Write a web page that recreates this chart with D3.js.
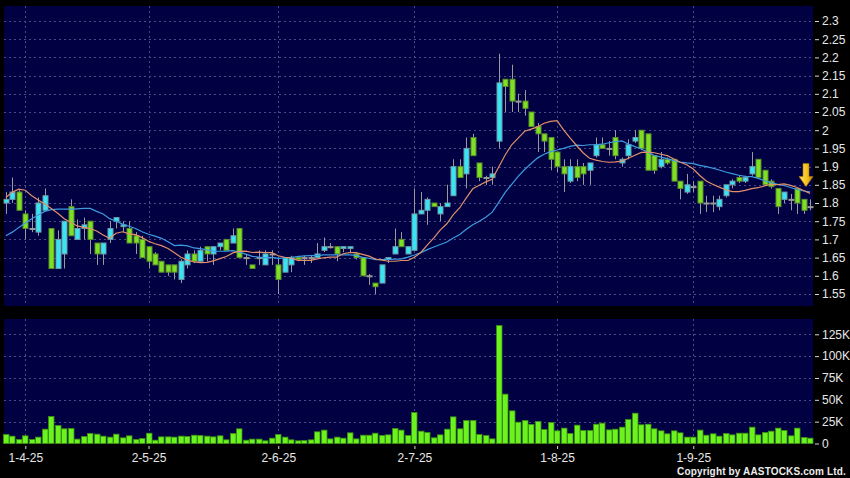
<!DOCTYPE html>
<html>
<head>
<meta charset="utf-8">
<script src="https://cdn.jsdelivr.net/npm/d3@7/dist/d3.min.js"></script>
<style>
body { margin: 0; background: #000; }
svg { display: block; font-family: "Liberation Sans", Arial, sans-serif; }
</style>
</head>
<body>
<svg width="850" height="478"></svg>
<script>
// daily candles, 27-3-25 .. 25-9-25 (index 0 .. 124)
var open = [1.80,1.81,1.83,1.77,1.73,1.72,1.78,1.73,1.62,1.66, 1.79,1.70,1.73,1.75,1.69,1.66,1.70,1.75,1.735,1.73,
	1.71,1.70,1.68,1.66,1.64,1.63,1.63,1.59,1.63,1.66, 1.64,1.68,1.66,1.68,1.70,1.69,1.73,1.65,1.63,1.65,
	1.63,1.66,1.63,1.61,1.63,1.65,1.65,1.65,1.65,1.67, 1.68,1.68,1.675,1.675,1.66,1.65,1.60,1.58,1.58,1.645,
	1.66,1.70,1.66,1.67,1.77,1.78,1.80,1.77,1.79,1.82, 1.90,1.88,1.98,1.91,1.87,1.87,1.97,2.14,2.14,2.08,
	2.08,2.05,2.01,1.99,1.98,1.94,1.90,1.86,1.90,1.90, 1.89,1.93,1.96,1.95,1.98,1.91,1.93,1.97,2.00,1.99,
	1.93,1.90,1.92,1.92,1.86,1.83,1.845,1.86,1.80,1.80, 1.79,1.82,1.85,1.87,1.86,1.88,1.92,1.89,1.86,1.84,
	1.81,1.81,1.84,1.81,1.79];
var high = [1.83,1.87,1.835,1.78,1.77,1.815,1.84,1.73,1.725,1.75, 1.81,1.755,1.76,1.75,1.69,1.69,1.75,1.76,1.75,1.75,
	1.72,1.71,1.68,1.665,1.64,1.63,1.63,1.645,1.67,1.67, 1.68,1.68,1.68,1.69,1.70,1.73,1.73,1.66,1.63,1.67,
	1.67,1.67,1.65,1.65,1.655,1.655,1.655,1.655,1.69,1.705, 1.69,1.68,1.68,1.68,1.665,1.65,1.605,1.58,1.63,1.65,
	1.73,1.72,1.68,1.84,1.83,1.815,1.80,1.80,1.85,1.92, 1.92,1.98,1.99,1.91,1.875,1.90,2.21,2.14,2.18,2.10,
	2.11,2.05,2.02,1.99,1.98,1.94,1.92,1.92,1.92,1.91, 1.91,1.98,1.98,1.97,2.00,1.925,1.975,2.00,2.00,1.99,
	1.93,1.94,1.925,1.92,1.86,1.88,1.86,1.86,1.82,1.82, 1.82,1.85,1.865,1.875,1.875,1.94,1.92,1.89,1.865,1.84,
	1.83,1.825,1.84,1.81,1.81];
var low = [1.77,1.80,1.78,1.70,1.72,1.71,1.78,1.62,1.62,1.62, 1.71,1.70,1.70,1.66,1.63,1.63,1.69,1.73,1.72,1.69,
	1.66,1.65,1.62,1.63,1.61,1.60,1.59,1.58,1.62,1.635, 1.64,1.64,1.63,1.67,1.67,1.69,1.65,1.63,1.62,1.63,
	1.63,1.63,1.55,1.61,1.61,1.64,1.63,1.635,1.65,1.665, 1.675,1.64,1.665,1.665,1.645,1.60,1.575,1.55,1.58,1.635,
	1.66,1.68,1.66,1.67,1.77,1.74,1.79,1.75,1.79,1.82, 1.87,1.84,1.93,1.86,1.85,1.85,1.95,2.05,2.05,2.05,
	2.04,2.01,1.94,1.94,1.89,1.885,1.83,1.855,1.86,1.85, 1.85,1.925,1.95,1.93,1.92,1.90,1.92,1.965,1.945,1.89,
	1.88,1.895,1.905,1.86,1.81,1.825,1.83,1.77,1.775,1.775, 1.78,1.815,1.84,1.855,1.855,1.875,1.87,1.85,1.84,1.77,
	1.80,1.78,1.77,1.77,1.78];
var close = [1.81,1.83,1.78,1.73,1.73,1.80,1.82,1.62,1.70,1.75, 1.71,1.73,1.74,1.70,1.66,1.69,1.73,1.76,1.74,1.69,
	1.69,1.65,1.64,1.63,1.61,1.61,1.61,1.64,1.66,1.64, 1.67,1.66,1.68,1.69,1.67,1.71,1.65,1.65,1.62,1.65,
	1.66,1.66,1.59,1.65,1.65,1.645,1.65,1.65,1.66,1.68, 1.68,1.66,1.68,1.68,1.65,1.60,1.60,1.57,1.63,1.65,
	1.68,1.68,1.68,1.77,1.78,1.81,1.79,1.79,1.80,1.90, 1.87,1.95,1.93,1.87,1.87,1.88,2.13,2.12,2.08,2.08,
	2.06,2.01,1.99,1.97,1.92,1.90,1.88,1.90,1.87,1.88, 1.91,1.96,1.95,1.95,1.93,1.92,1.96,1.98,1.95,1.89,
	1.89,1.92,1.91,1.86,1.84,1.85,1.845,1.80,1.80,1.80, 1.81,1.85,1.86,1.86,1.87,1.90,1.87,1.85,1.845,1.79,
	1.83,1.81,1.80,1.78,1.79];
// volume, thousand shares
var volume = [10.3,8.4,4.6,8.8,4.6,7.3,16.4,30.9,20.6,16.8, 17.2,5.0,8.0,11.5,10.7,8.4,7.3,10.7,6.5,8.8,
	4.6,5.7,11.8,3.8,7.6,7.6,7.3,8.4,8.0,9.5, 9.2,8.4,7.6,8.8,4.2,11.5,16.8,3.8,5.0,5.0,
	3.1,6.1,10.3,7.3,4.2,3.1,3.4,4.2,13.4,15.3, 5.3,7.3,6.1,12.2,5.3,9.5,9.5,11.8,9.2,9.9,
	17.2,15.3,9.2,35.5,14.1,12.6,6.5,9.9,16.4,30.5, 16.8,26.3,26.3,10.3,9.2,5.3,135,56.5,37.4,24.4,
	26.3,21.8,25.2,16.0,24.0,14.5,17.6,11.5,21.0,14.9, 14.9,22.1,23.3,15.6,16.4,18.7,27.5,34.7,21.4,22.1,
	16.8,14.5,11.1,14.5,12.2,7.3,7.3,15.3,9.5,11.1, 8.4,11.5,9.9,11.8,11.8,18.7,9.9,12.6,14.1,17.6,
	14.9,8.8,17.6,6.9,6.1];
// moving averages before a full window is available
var ma10Head = [1.815,1.83,1.838,1.835,1.82,1.808,1.797,1.785,1.772];
var ma20Head = [1.71,1.72,1.733,1.745,1.757,1.767,1.777,1.782,1.783,1.783,
	1.783,1.784,1.785,1.785,1.777,1.77,1.757,1.75,1.742];

var tickIdx = [3, 22, 42, 63, 85, 106];
var tickLabels = ["1-4-25", "2-5-25", "2-6-25", "2-7-25", "1-8-25", "1-9-25"];
var priceTicks = d3.range(1.55, 2.3001, 0.05);
var volTicks = [0, 25, 50, 75, 100, 125];

var svg = d3.select("svg"),
	width = +svg.attr("width"),
	height = +svg.attr("height");

var plotL = 4, plotR = 813;
var priceTop = 6, priceBot = 306, volTop = 319, volBot = 444;

var x = d3.scaleLinear().domain([0, open.length - 1]).range([5.85, 810]);
var y = d3.scaleLinear().domain([1.55, 2.3]).range([294, 21]);
var yv = d3.scaleLinear().domain([0, 125]).range([443.5, 334.3]);

// moving averages
function sma(n, head) {
	return close.map((c, i) => {
		if (i < n - 1) return head[i];
		return d3.mean(close.slice(i - n + 1, i + 1));
	});
}
var ma10 = sma(10, ma10Head);
var ma20 = sma(20, ma20Head);

// Panels
svg.append("rect").attr("width", width).attr("height", height).attr("fill", "#000");
svg.append("rect").attr("x", plotL).attr("y", priceTop)
	.attr("width", plotR - plotL).attr("height", priceBot - priceTop).attr("fill", "#000042");
svg.append("rect").attr("x", plotL).attr("y", volTop)
	.attr("width", plotR - plotL).attr("height", volBot - volTop).attr("fill", "#000042");

// Grid
var grid = svg.append("g")
	.attr("stroke", "#4a4a84")
	.attr("stroke-dasharray", "2,3")
	.attr("stroke-width", 1);

grid.selectAll(".hp").data(priceTicks).enter().append("line")
	.attr("x1", plotL).attr("x2", plotR)
	.attr("y1", (d) => Math.round(y(d)) + 0.5).attr("y2", (d) => Math.round(y(d)) + 0.5);
grid.selectAll(".hv").data(volTicks.slice(1)).enter().append("line")
	.attr("x1", plotL).attr("x2", plotR)
	.attr("y1", (d) => Math.round(yv(d)) + 0.5).attr("y2", (d) => Math.round(yv(d)) + 0.5);
grid.selectAll(".vp").data(tickIdx).enter().append("line")
	.attr("x1", (d) => Math.round(x(d)) + 0.5).attr("x2", (d) => Math.round(x(d)) + 0.5)
	.attr("y1", priceTop).attr("y2", priceBot);
grid.selectAll(".vv").data(tickIdx).enter().append("line")
	.attr("x1", (d) => Math.round(x(d)) + 0.5).attr("x2", (d) => Math.round(x(d)) + 0.5)
	.attr("y1", volTop).attr("y2", volBot);

// Candles
var candles = svg.append("g").selectAll("g")
	.data(open.map((o, i) => ({ i: i, o: o, h: high[i], l: low[i], c: close[i] })))
	.enter().append("g");

candles.append("line")
	.attr("x1", (d) => Math.round(x(d.i)) + 0.5).attr("x2", (d) => Math.round(x(d.i)) + 0.5)
	.attr("y1", (d) => y(d.h)).attr("y2", (d) => y(d.l))
	.attr("stroke", "#9a9a9a").attr("stroke-width", 1);

candles.append("rect")
	.attr("x", (d) => Math.round(x(d.i)) - 2)
	.attr("y", (d) => y(Math.max(d.o, d.c)))
	.attr("width", 5)
	.attr("height", (d) => Math.max(1, Math.abs(y(d.o) - y(d.c))))
	.attr("fill", (d) => d.c > d.o ? "#38e4f4" : (d.c < d.o ? "#7ee022" : "#9a9a9a"))
	.attr("stroke", (d) => d.c > d.o ? "#6f9aa6" : (d.c < d.o ? "#5a8d2c" : "#9a9a9a"))
	.attr("stroke-width", 1);

// Moving averages
var line = (arr) => d3.line().x((d, i) => x(i)).y((d) => y(d))(arr);
svg.append("path").attr("d", line(ma20))
	.attr("fill", "none").attr("stroke", "#3d9be0").attr("stroke-width", 1.2);
svg.append("path").attr("d", line(ma10))
	.attr("fill", "none").attr("stroke", "#e0906a").attr("stroke-width", 1.2);

// Arrow over the last candle
var defs = svg.append("defs");
var grad = defs.append("linearGradient").attr("id", "gold")
	.attr("x1", 0).attr("x2", 1).attr("y1", 0).attr("y2", 0);
grad.append("stop").attr("offset", "0%").attr("stop-color", "#ffe27a");
grad.append("stop").attr("offset", "55%").attr("stop-color", "#f7c21c");
grad.append("stop").attr("offset", "100%").attr("stop-color", "#c98a00");
var ax = x(open.length - 1) - 4, ay = y(1.845);
svg.append("path")
	.attr("d", `M${ax - 3},${ay - 23} h6 v13 h4 l-7,10 l-7,-10 h4 z`)
	.attr("fill", "url(#gold)").attr("stroke", "#b07a00").attr("stroke-width", 0.6);

// Volume bars
svg.append("g").selectAll("rect")
	.data(volume).enter().append("rect")
	.attr("x", (d, i) => Math.round(x(i)) - 2.5)
	.attr("y", (d) => yv(d))
	.attr("width", 5.5)
	.attr("height", (d) => yv(0) - yv(d))
	.attr("fill", "#6cf21e").attr("stroke", "#3b8f12").attr("stroke-width", 0.8);

// Axes
function styleAxis(g) {
	g.select(".domain").remove();
	g.selectAll(".tick line").attr("stroke", "#d8d8d8");
	g.selectAll(".tick text").attr("fill", "#e8e8e8").attr("font-size", 12);
}

svg.append("g").attr("transform", `translate(${plotR + 2},0)`)
	.call(d3.axisRight(y).tickValues(priceTicks).tickSize(4).tickPadding(3)
		.tickFormat((d) => String(+d.toFixed(2))))
	.call(styleAxis);

svg.append("g").attr("transform", `translate(${plotR + 2},0)`)
	.call(d3.axisRight(yv).tickValues(volTicks).tickSize(4).tickPadding(3)
		.tickFormat((d) => d === 0 ? "0" : d + "K"))
	.call(styleAxis);

svg.append("g").attr("transform", `translate(0,${volBot + 2})`)
	.call(d3.axisBottom(x).tickValues(tickIdx).tickSize(3).tickPadding(4)
		.tickFormat((d, i) => tickLabels[i]))
	.call(styleAxis);

svg.append("text")
	.attr("x", 846).attr("y", 475)
	.attr("text-anchor", "end")
	.attr("fill", "#ececec")
	.attr("font-size", 10).attr("font-weight", "bold")
	.attr("letter-spacing", 0.15)
	.text("Copyright by AASTOCKS.com Ltd.");
</script>
</body>
</html>
